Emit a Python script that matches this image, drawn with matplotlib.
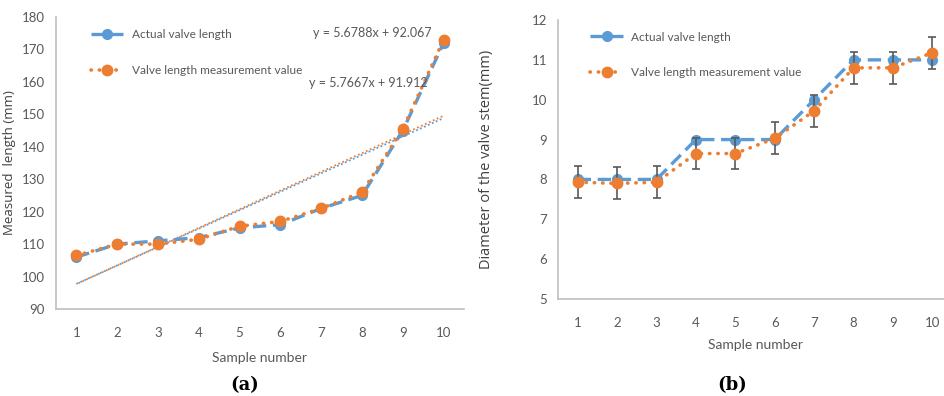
import numpy as np
import matplotlib
matplotlib.use('Agg')
import matplotlib.pyplot as plt
from matplotlib.lines import Line2D

# data
samples = np.arange(1, 11)
actual_len = [106, 110, 111, 112, 115, 116, 121, 125, 145, 172]
meas_len = [106.5, 110, 110, 111.5, 115.5, 117, 121, 126, 145.5, 173]
trend_actual = (5.6788, 92.067)
trend_meas = (5.7667, 91.912)

actual_dia = [8, 8, 8, 9, 9, 9, 10, 11, 11, 11]
meas_dia = [7.93, 7.9, 7.93, 8.65, 8.65, 9.03, 9.72, 10.8, 10.8, 11.18]
dia_err = [0.4] * 10

BLUE = '#5B9BD5'
ORANGE = '#ED7D31'
GRAY = '#595959'
SPINE = '#bfbfbf'

plt.rcParams['font.family'] = ['Lato', 'DejaVu Sans']

fig = plt.figure(figsize=(9.45, 3.96), dpi=100)
ax1 = fig.add_axes([56/945, 87/396, 408/945, 292/396])
ax2 = fig.add_axes([558/945, 97/396, 394/945, 279/396])

dash = dict(color=BLUE, lw=2.4, linestyle=(0, (4, 2)), marker='o', ms=7,
            dash_capstyle='butt')
dots = dict(color=ORANGE, lw=2.6, linestyle=(0, (0.1, 2.2)), marker='o', ms=7.5,
            dash_capstyle='round')
leg_kw = dict(loc='upper left', frameon=False, fontsize=8.6, labelcolor=GRAY,
              handlelength=2.7, labelspacing=2.05, handletextpad=0.7)


def style(ax, ylo, yhi, step):
    ax.set_xlim(0.5, 10.5)
    ax.set_ylim(ylo, yhi)
    ax.set_xticks(samples)
    ax.set_yticks(np.arange(ylo, yhi + step / 2, step))
    for s in ['top', 'right']:
        ax.spines[s].set_visible(False)
    for s in ['left', 'bottom']:
        ax.spines[s].set_color(SPINE)
        ax.spines[s].set_linewidth(1.2)
    ax.tick_params(length=0, labelsize=9.5, labelcolor=GRAY)
    ax.tick_params(axis='x', pad=13)
    ax.tick_params(axis='y', pad=8)


# (a) valve length
ax = ax1
xs = np.array([1, 10])
ax.plot(xs, trend_actual[0] * xs + trend_actual[1], color=BLUE, lw=1.3,
        linestyle=(0, (1, 1.4)))
ax.plot(xs, trend_meas[0] * xs + trend_meas[1], color=ORANGE, lw=1.3,
        linestyle=(1.2, (1, 1.4)))
ax.plot(samples, actual_len, **dash)
ax.plot(samples, meas_len, **dots)
style(ax, 90, 180, 10)
ax.set_xlabel('Sample number', fontsize=10, color=GRAY, labelpad=9)
ax.set_ylabel('Measured  length (mm)', fontsize=9.5, color='#404040',
              family=['Open Sans', 'DejaVu Sans'])
ax.yaxis.set_label_coords(-40 / 408, 0.5)
fig.text(313 / 945, 1 - 33 / 396, 'y = %.4fx + %.3f' % trend_actual,
         fontsize=9, color=GRAY, va='center')
fig.text(309 / 945, 1 - 83 / 396, 'y = %.4fx + %.3f' % trend_meas,
         fontsize=9, color=GRAY, va='center')
handles = [Line2D([], [], **dash), Line2D([], [], **dots)]
ax.legend(handles, ['Actual valve length', 'Valve length measurement value'],
          bbox_to_anchor=(0.06, 0.995), **leg_kw)
fig.text(245 / 945, 1 - 385 / 396, '(a)', ha='center', va='center',
         fontsize=13, fontweight='bold', family='DejaVu Serif')

# (b) valve stem diameter
ax = ax2
ax.plot(samples, actual_dia, **dash)
ax.errorbar(samples, meas_dia, yerr=dia_err, ecolor=GRAY, elinewidth=1.2,
            capsize=3, capthick=1.2, **dots)
style(ax, 5, 12, 1)
ax.set_xlabel('Sample number', fontsize=10, color=GRAY, labelpad=7)
ax.set_ylabel('Diameter of the valve stem(mm)', fontsize=10.5, color='#404040',
              family=['Open Sans', 'DejaVu Sans'])
ax.yaxis.set_label_coords(-64 / 394, 0.5)
ax.legend(handles, ['Actual valve length', 'Valve length measurement value'],
          bbox_to_anchor=(0.055, 0.997), **leg_kw)
fig.text(732 / 945, 1 - 385 / 396, '(b)', ha='center', va='center',
         fontsize=13, fontweight='bold', family='DejaVu Serif')

fig.savefig('out.png', dpi=100)
